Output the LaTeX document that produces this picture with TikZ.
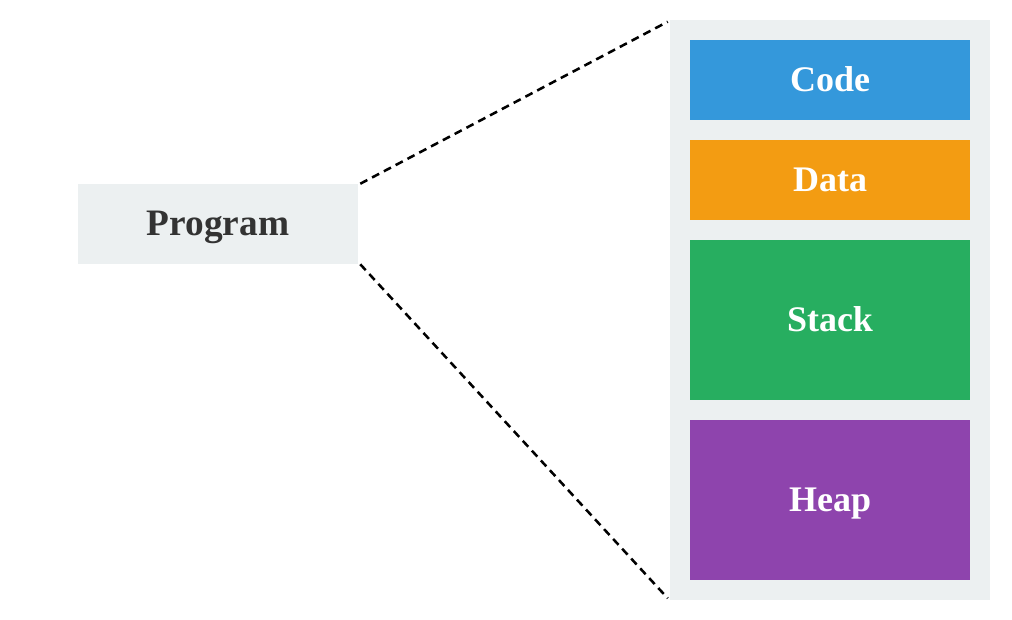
\documentclass[tikz,border=0pt]{standalone}
\usepackage{fontspec}
\setmainfont{Liberation Serif}
\definecolor{bggrey}{HTML}{ECF0F1}
\definecolor{cblue}{HTML}{3498DB}
\definecolor{corange}{HTML}{F39C12}
\definecolor{cgreen}{HTML}{27AE60}
\definecolor{cpurple}{HTML}{8E44AD}
\definecolor{tdark}{HTML}{333333}
\begin{document}
\begin{tikzpicture}[x=0.75pt,y=-0.75pt,
  lbl/.style={inner sep=0pt,text height=17pt,text depth=0pt,font=\fontsize{27}{32}\selectfont\bfseries},
  seg/.style={lbl,draw=none,minimum width=210pt,text=white},
  link/.style={draw=black,line width=1.9pt,dash pattern=on 6pt off 4pt}]
\useasboundingbox (0,0) rectangle (1012,620);
\node[lbl,fill=bggrey,minimum width=210pt,minimum height=60pt,text=tdark,
  font=\fontsize{28}{32}\selectfont\bfseries] (prog) at (218,224) {Program};
\node[fill=bggrey,minimum width=240pt,minimum height=435pt,inner sep=0pt] (mem) at (830,310) {};
\node[seg,fill=cblue,minimum height=60pt] (code) at (830,80) {Code};
\node[seg,fill=corange,minimum height=60pt] (data) at (830,180) {Data};
\node[seg,fill=cgreen,minimum height=120pt] (stack) at (830,320) {Stack};
\node[seg,fill=cpurple,minimum height=120pt] (heap) at (830,500) {Heap};
\draw[link] ([xshift=1.5pt]prog.north east) -- ([xshift=-1.5pt,yshift=-1.5pt]mem.north west);
\draw[link] ([xshift=1.5pt]prog.south east) -- ([xshift=-1.5pt,yshift=1.5pt]mem.south west);
\end{tikzpicture}
\end{document}
